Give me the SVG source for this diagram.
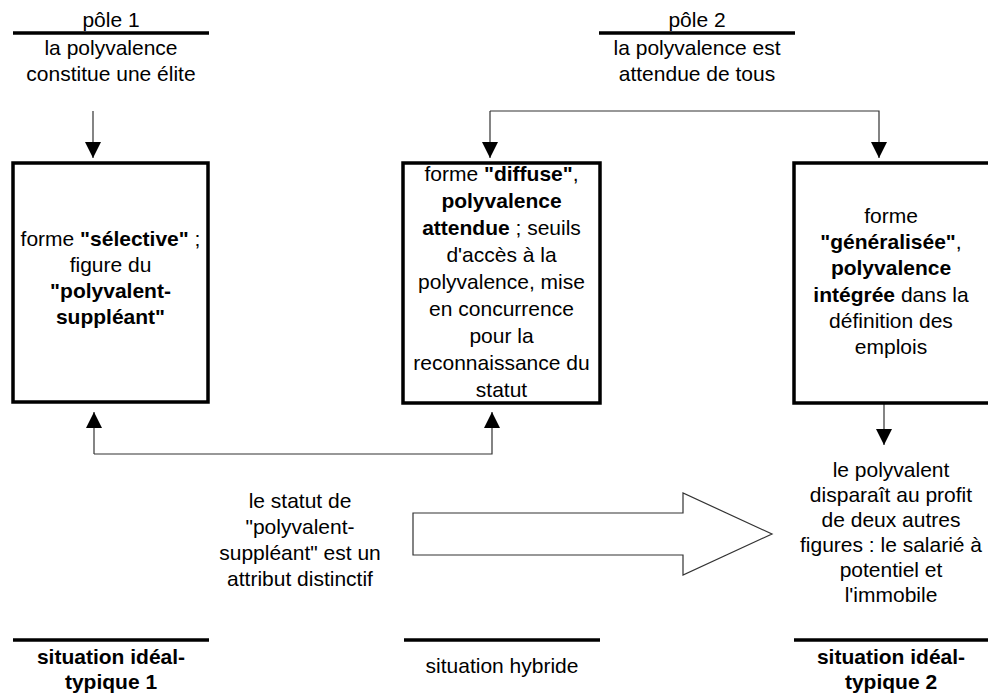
<svg xmlns="http://www.w3.org/2000/svg" width="988" height="694" viewBox="0 0 988 694">
<defs>
<style>
text{font-family:"Liberation Sans",Arial,sans-serif;font-size:21px;fill:#000;text-anchor:middle}
.b{font-weight:bold}
.box{fill:#fff;stroke:#000;stroke-width:3.5}
.rule{stroke:#000;stroke-width:3.5;fill:none}
.thin{stroke:#333;stroke-width:1.2;fill:none}
.big{fill:#fff;stroke:#333;stroke-width:1.2}
</style>
<marker id="ah" viewBox="0 0 16 16" refX="16" refY="8" markerWidth="16" markerHeight="16" markerUnits="userSpaceOnUse" orient="auto">
<path d="M0,0 L16,8 L0,16 Z" fill="#000"/>
</marker>
</defs>
<g id="connectors">
<path class="thin" d="M93,111 V158" marker-end="url(#ah)"/>
<path class="thin" d="M490,111 H879 V158" marker-end="url(#ah)"/>
<path class="thin" d="M490,111 V158" marker-end="url(#ah)"/>
<path class="thin" d="M94,454 H492 V412" marker-end="url(#ah)"/>
<path class="thin" d="M94,454 V412" marker-end="url(#ah)"/>
<path class="thin" d="M884,403 V445" marker-end="url(#ah)"/>
<path class="big" d="M413,513 H683 V493 L772,534 L683,575 V555 H413 Z"/>
</g>
<g id="pole1">
<text x="111" y="27">pôle 1</text>
<line class="rule" x1="13" y1="33" x2="209" y2="33"/>
<text x="111" y="55">la polyvalence</text>
<text x="111" y="81">constitue une élite</text>
</g>
<g id="pole2">
<text x="697" y="27">pôle 2</text>
<line class="rule" x1="599" y1="33" x2="795" y2="33"/>
<text x="697" y="55">la polyvalence est</text>
<text x="697" y="81">attendue de tous</text>
</g>
<g id="box1">
<rect class="box" x="13" y="163" width="195" height="239"/>
<text x="110.5" y="246">forme <tspan class="b">"sélective"</tspan> ;</text>
<text x="110.5" y="272">figure du</text>
<text x="110.5" y="298" class="b">"polyvalent-</text>
<text x="110.5" y="324" class="b">suppléant"</text>
</g>
<g id="box2">
<rect class="box" x="403" y="163" width="197" height="240"/>
<text x="501.5" y="181">forme <tspan class="b">"diffuse"</tspan>,</text>
<text x="501.5" y="208" class="b">polyvalence</text>
<text x="501.5" y="235"><tspan class="b">attendue</tspan> ; seuils</text>
<text x="501.5" y="262">d'accès à la</text>
<text x="501.5" y="289">polyvalence, mise</text>
<text x="501.5" y="316">en concurrence</text>
<text x="501.5" y="343">pour la</text>
<text x="501.5" y="370">reconnaissance du</text>
<text x="501.5" y="397">statut</text>
</g>
<g id="box3">
<rect class="box" x="794" y="163" width="197" height="240"/>
<text x="891" y="223">forme</text>
<text x="891" y="249"><tspan class="b">"généralisée"</tspan>,</text>
<text x="891" y="275" class="b">polyvalence</text>
<text x="891" y="302"><tspan class="b">intégrée</tspan> dans la</text>
<text x="891" y="328">définition des</text>
<text x="891" y="354">emplois</text>
</g>
<g id="statut">
<text x="300" y="508">le statut de</text>
<text x="300" y="534">"polyvalent-</text>
<text x="300" y="560">suppléant" est un</text>
<text x="300" y="586">attribut distinctif</text>
</g>
<g id="disparait">
<text x="891" y="477">le polyvalent</text>
<text x="891" y="502">disparaît au profit</text>
<text x="891" y="527">de deux autres</text>
<text x="891" y="552">figures : le salarié à</text>
<text x="891" y="577">potentiel et</text>
<text x="891" y="602">l'immobile</text>
</g>
<g id="sit1">
<line class="rule" x1="13" y1="640" x2="209" y2="640"/>
<text x="111" y="664" class="b">situation idéal-</text>
<text x="111" y="689" class="b">typique 1</text>
</g>
<g id="sit2">
<line class="rule" x1="404" y1="640" x2="600" y2="640"/>
<text x="502" y="673">situation hybride</text>
</g>
<g id="sit3">
<line class="rule" x1="794" y1="640" x2="990" y2="640"/>
<text x="891" y="664" class="b">situation idéal-</text>
<text x="891" y="689" class="b">typique 2</text>
</g>
</svg>
